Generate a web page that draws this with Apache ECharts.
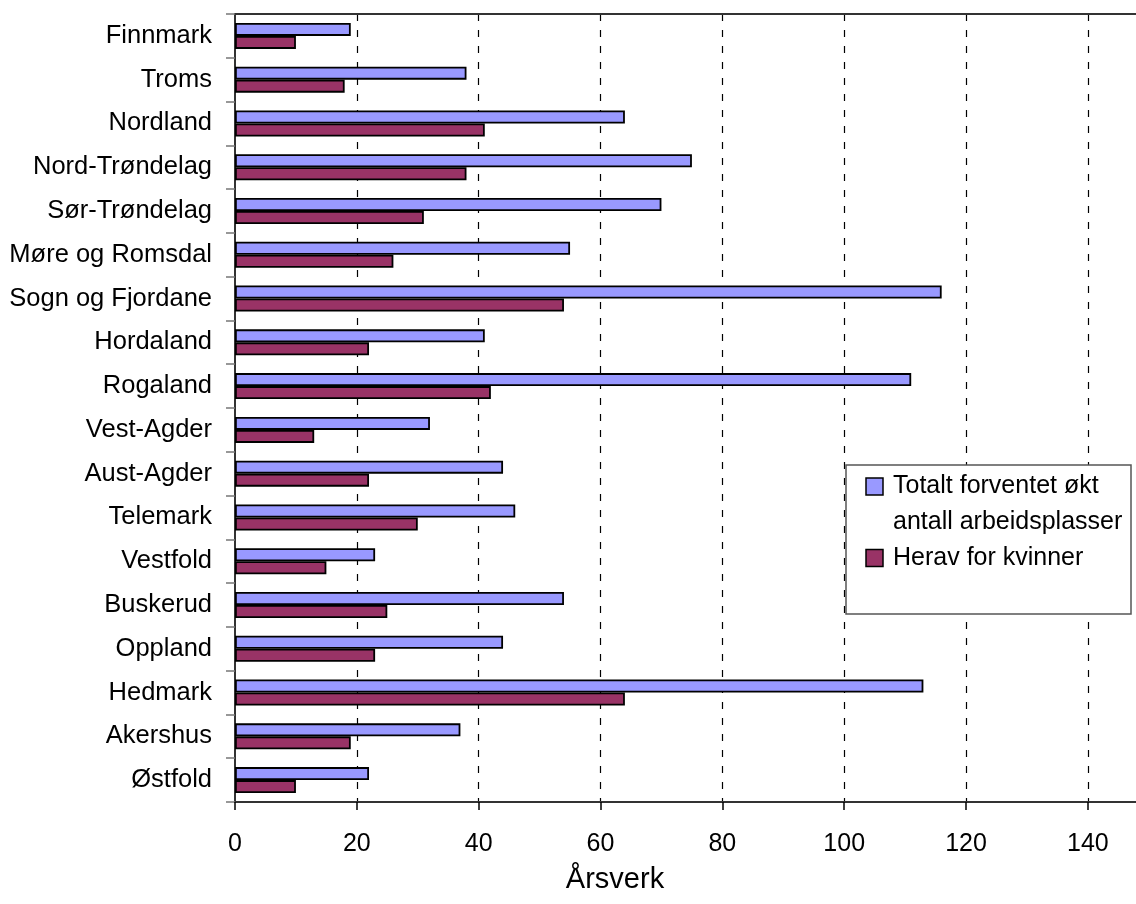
<!DOCTYPE html>
<html>
<head>
<meta charset="utf-8">
<script src="https://cdn.jsdelivr.net/npm/echarts@6/dist/echarts.min.js"></script>
<style>
html,body{margin:0;padding:0;background:#fff;}
#chart{width:1136px;height:904px;}
</style>
</head>
<body>
<div id="chart"></div>
<script>
const categories = ['Finnmark','Troms','Nordland','Nord-Trøndelag','Sør-Trøndelag','Møre og Romsdal','Sogn og Fjordane','Hordaland','Rogaland','Vest-Agder','Aust-Agder','Telemark','Vestfold','Buskerud','Oppland','Hedmark','Akershus','Østfold'];
const totalValues = [19,38,64,75,70,55,116,41,111,32,44,46,23,54,44,113,37,22];
const womenValues = [10,18,41,38,31,26,54,22,42,13,22,30,15,25,23,64,19,10];
const seriesNames = ['Totalt forventet økt\nantall arbeidsplasser','Herav for kvinner'];
const seriesColors = ['#9999FF','#993366'];
const axisName = 'Årsverk';

const FONT = 'Liberation Sans, Arial, sans-serif';
const chart = echarts.init(document.getElementById('chart'));

const nameLines = seriesNames[0].split('\n');
const XMAX = 147.9;
const option = {
  animation: false,
  backgroundColor: '#fff',
  grid: {left: 235, top: 14, bottom: 102, right: 0, show: false},
  xAxis: [
    {
      type: 'value', min: 0, max: XMAX, interval: 20,
      axisLine: {show: true, lineStyle: {color: '#333', width: 2}},
      axisTick: {show: true, length: 8, lineStyle: {color: '#000', width: 1.5}},
      axisLabel: {
        color: '#000', fontFamily: FONT, fontSize: 25, margin: 30,
        showMaxLabel: false,
        formatter: v => (v % 20 === 0 ? String(v) : '')
      },
      splitLine: {show: true, showMaxLine: false, showMinLine: false,
        lineStyle: {color: '#000', width: 1.2, type: [7, 9]}}
    },
    {
      type: 'value', position: 'top', min: 0, max: XMAX, interval: 20,
      axisLine: {show: true, lineStyle: {color: '#333', width: 2}},
      axisTick: {show: false}, axisLabel: {show: false}, splitLine: {show: false}
    }
  ],
  yAxis: {
    type: 'category', data: categories, inverse: true,
    axisLine: {show: true, lineStyle: {color: '#333', width: 2}},
    axisTick: {show: true, length: 9, lineStyle: {color: '#777', width: 1.5}},
    axisLabel: {color: '#000', fontFamily: FONT, fontSize: 25.5, margin: 23},
    splitLine: {show: false}
  },
  series: [
    {
      name: seriesNames[0], type: 'bar', data: totalValues, xAxisIndex: 0,
      barWidth: 13, barGap: '0%',
      itemStyle: {color: seriesColors[0], borderColor: '#000', borderWidth: 1.8}
    },
    {
      name: seriesNames[1], type: 'bar', data: womenValues, xAxisIndex: 0,
      barWidth: 13, barGap: '0%',
      itemStyle: {color: seriesColors[1], borderColor: '#000', borderWidth: 1.8}
    }
  ],
  graphic: [
    {type: 'text', x: 615, y: 880, z: 100,
      style: {text: axisName, fill: '#000', font: '29px ' + FONT, textAlign: 'center', textVerticalAlign: 'middle'}},
    {type: 'rect', z: 100, shape: {x: 846, y: 465, width: 285, height: 149},
      style: {fill: '#fff', stroke: '#555', lineWidth: 1.5}},
    {type: 'rect', z: 101, shape: {x: 866, y: 478, width: 17, height: 17},
      style: {fill: seriesColors[0], stroke: '#000', lineWidth: 1.5}},
    {type: 'rect', z: 101, shape: {x: 866, y: 549.5, width: 17, height: 17},
      style: {fill: seriesColors[1], stroke: '#000', lineWidth: 1.5}},
    {type: 'text', x: 893, y: 486.5, z: 101,
      style: {text: nameLines[0], fill: '#000', font: '25px ' + FONT, textVerticalAlign: 'middle'}},
    {type: 'text', x: 893, y: 522, z: 101,
      style: {text: nameLines[1], fill: '#000', font: '25px ' + FONT, textVerticalAlign: 'middle'}},
    {type: 'text', x: 893, y: 558, z: 101,
      style: {text: seriesNames[1], fill: '#000', font: '25px ' + FONT, textVerticalAlign: 'middle'}}
  ]
};
chart.setOption(option);
</script>
</body>
</html>
